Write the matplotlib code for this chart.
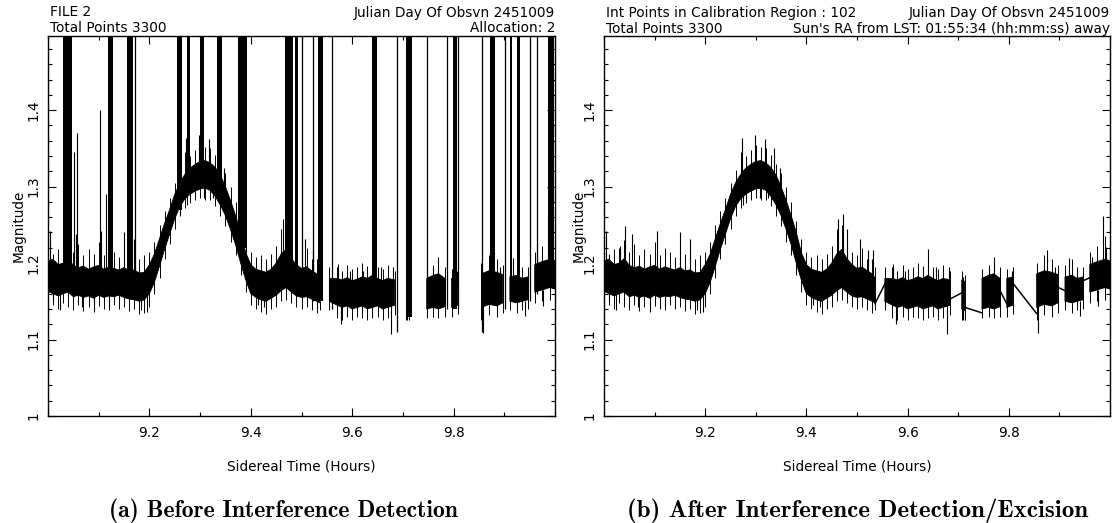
import matplotlib.pyplot as plt
from matplotlib.ticker import MultipleLocator

nan = float("nan")

# clean signal, sidereal time (h): core of the noise band (lo/hi) and the
# extremes of the noise at each knot (tip_lo/tip_hi), magnitude.
# nan knots mark the stretches removed by the excision
band_t = [9.000, 9.010, 9.020, 9.030, 9.040, 9.050, 9.060, 9.070, 9.080, 9.090,
          9.100, 9.110, 9.120, 9.130, 9.140, 9.150, 9.160, 9.170, 9.180, 9.190,
          9.200, 9.210, 9.220, 9.230, 9.240, 9.250, 9.260, 9.270, 9.280, 9.290,
          9.300, 9.310, 9.320, 9.330, 9.340, 9.350, 9.360, 9.370, 9.380, 9.390,
          9.400, 9.410, 9.420, 9.430, 9.440, 9.450, 9.460, 9.470, 9.480, 9.490,
          9.500, 9.510, 9.520, 9.530, 9.536, 9.545, 9.555, 9.570, 9.580, 9.590,
          9.600, 9.610, 9.620, 9.630, 9.640, 9.650, 9.660, 9.670, 9.684, 9.695,
          9.707, 9.713, 9.730, 9.747, 9.760, 9.770, 9.783, 9.790, 9.796, 9.808,
          9.830, 9.855, 9.870, 9.885, 9.897, 9.904, 9.911, 9.925, 9.935, 9.947,
          9.953, 9.960, 9.975, 9.990, 10.000]
band_lo = [1.163, 1.160, 1.157, 1.160, 1.162, 1.156, 1.158, 1.155, 1.157, 1.154,
           1.158, 1.155, 1.157, 1.156, 1.158, 1.155, 1.153, 1.152, 1.150, 1.152,
           1.160, 1.175, 1.196, 1.218, 1.238, 1.258, 1.274, 1.284, 1.290, 1.294,
           1.297, 1.298, 1.295, 1.287, 1.276, 1.262, 1.244, 1.224, 1.200, 1.178,
           1.160, 1.155, 1.152, 1.150, 1.154, 1.158, 1.164, 1.168, 1.162, 1.157,
           1.155, 1.156, 1.153, 1.150, 1.148, nan, 1.150, 1.145, 1.142, 1.144,
           1.140, 1.142, 1.144, 1.140, 1.142, 1.144, 1.140, 1.142, 1.145, nan,
           1.140, 1.138, nan, 1.140, 1.142, 1.140, 1.143, nan, 1.142, 1.145,
           nan, 1.142, 1.146, 1.144, 1.148, nan, 1.150, 1.148, 1.150, 1.152,
           nan, 1.162, 1.165, 1.168, 1.166]
band_hi = [1.203, 1.205, 1.198, 1.200, 1.206, 1.197, 1.194, 1.196, 1.192, 1.195,
           1.197, 1.192, 1.195, 1.193, 1.191, 1.194, 1.190, 1.191, 1.187, 1.188,
           1.198, 1.212, 1.232, 1.252, 1.270, 1.290, 1.305, 1.316, 1.324, 1.329,
           1.333, 1.334, 1.331, 1.325, 1.315, 1.300, 1.282, 1.262, 1.240, 1.214,
           1.198, 1.192, 1.190, 1.188, 1.192, 1.200, 1.212, 1.218, 1.206, 1.198,
           1.193, 1.195, 1.190, 1.186, 1.180, nan, 1.180, 1.180, 1.178, 1.181,
           1.177, 1.179, 1.182, 1.180, 1.184, 1.180, 1.177, 1.180, 1.178, nan,
           1.178, 1.176, nan, 1.180, 1.184, 1.186, 1.180, nan, 1.180, 1.182,
           nan, 1.186, 1.190, 1.188, 1.185, nan, 1.182, 1.184, 1.180, 1.182,
           nan, 1.198, 1.202, 1.205, 1.203]
tip_lo = [1.150, 1.145, 1.140, 1.148, 1.143, 1.138, 1.145, 1.137, 1.142, 1.136,
          1.144, 1.140, 1.138, 1.145, 1.140, 1.142, 1.137, 1.140, 1.133, 1.135,
          1.142, 1.160, 1.180, 1.205, 1.225, 1.245, 1.262, 1.272, 1.278, 1.282,
          1.285, 1.283, 1.282, 1.275, 1.262, 1.248, 1.228, 1.210, 1.185, 1.162,
          1.145, 1.140, 1.136, 1.134, 1.140, 1.142, 1.150, 1.152, 1.148, 1.143,
          1.140, 1.142, 1.138, 1.135, 1.138, nan, 1.138, 1.128, 1.125, 1.130,
          1.126, 1.130, 1.128, 1.125, 1.128, 1.130, 1.125, 1.128, 1.132, nan,
          1.125, 1.125, nan, 1.128, 1.130, 1.128, 1.130, nan, 1.130, 1.133,
          nan, 1.125, 1.132, 1.130, 1.135, nan, 1.138, 1.135, 1.138, 1.140,
          nan, 1.148, 1.150, 1.152, 1.155]
tip_hi = [1.225, 1.212, 1.218, 1.220, 1.230, 1.215, 1.225, 1.210, 1.218, 1.212,
          1.228, 1.210, 1.220, 1.215, 1.208, 1.225, 1.212, 1.220, 1.205, 1.210,
          1.215, 1.228, 1.250, 1.268, 1.285, 1.305, 1.322, 1.345, 1.340, 1.348,
          1.355, 1.352, 1.350, 1.342, 1.330, 1.318, 1.300, 1.280, 1.255, 1.232,
          1.215, 1.208, 1.210, 1.205, 1.212, 1.222, 1.245, 1.250, 1.235, 1.215,
          1.210, 1.220, 1.205, 1.205, 1.195, nan, 1.195, 1.195, 1.190, 1.198,
          1.192, 1.195, 1.200, 1.196, 1.205, 1.195, 1.192, 1.198, 1.190, nan,
          1.190, 1.185, nan, 1.192, 1.198, 1.205, 1.195, nan, 1.192, 1.195,
          nan, 1.200, 1.210, 1.205, 1.198, nan, 1.198, 1.205, 1.195, 1.195,
          nan, 1.215, 1.222, 1.235, 1.225]

# single noise spikes sticking out of the band
spike_t = [9.004, 9.009, 9.024, 9.032, 9.041, 9.055, 9.068, 9.091, 9.104, 9.121,
           9.150, 9.170, 9.183, 9.196, 9.272, 9.275, 9.298, 9.308, 9.318, 9.325,
           9.335, 9.348, 9.414, 9.427, 9.463, 9.473, 9.480, 9.506, 9.522, 9.532,
           9.572, 9.578, 9.595, 9.621, 9.641, 9.657, 9.677, 9.681, 9.709, 9.760,
           9.770, 9.806, 9.858, 9.875, 9.891, 9.918, 9.941, 9.964, 9.977, 9.987,
           9.993]
spike_lo = [1.190, 1.150, 1.138, 1.190, 1.190, 1.190, 1.142, 1.138, 1.190, 1.144,
            1.190, 1.190, 1.138, 1.136, 1.310, 1.276, 1.320, 1.285, 1.320, 1.285,
            1.310, 1.290, 1.145, 1.143, 1.200, 1.200, 1.200, 1.180, 1.180, 1.175,
            1.170, 1.120, 1.160, 1.170, 1.170, 1.170, 1.107, 1.170, 1.125, 1.170,
            1.170, 1.170, 1.109, 1.180, 1.170, 1.170, 1.131, 1.180, 1.144, 1.190,
            1.190]
spike_hi = [1.242, 1.190, 1.170, 1.222, 1.249, 1.238, 1.170, 1.170, 1.242, 1.170,
            1.240, 1.231, 1.165, 1.165, 1.364, 1.300, 1.367, 1.310, 1.362, 1.310,
            1.351, 1.324, 1.170, 1.170, 1.258, 1.264, 1.244, 1.231, 1.217, 1.217,
            1.199, 1.150, 1.190, 1.190, 1.219, 1.195, 1.145, 1.195, 1.182, 1.195,
            1.208, 1.190, 1.145, 1.217, 1.195, 1.206, 1.150, 1.208, 1.165, 1.262,
            1.221]

# excised stretches: the cleaned trace joins them with a straight line
gap_t0 = [9.5356, 9.6838, 9.7134, 9.7826, 9.8089, 9.8979, 9.9473]
gap_t1 = [9.5553, 9.7069, 9.7464, 9.7958, 9.8550, 9.9111, 9.9605]
gap_m0 = [1.147, 1.153, 1.142, 1.164, 1.173, 1.168, 1.177]
gap_m1 = [1.173, 1.161, 1.135, 1.147, 1.134, 1.164, 1.181]

# interference in the raw trace: dense blocks running off the top of the plot
rfi_t0 = [9.030, 9.118, 9.156, 9.254, 9.274, 9.300, 9.333, 9.375, 9.467, 9.487,
          9.533, 9.639, 9.707, 9.799, 9.872, 9.911, 9.925, 9.986]
rfi_t1 = [9.047, 9.128, 9.168, 9.264, 9.280, 9.308, 9.343, 9.392, 9.483, 9.493,
          9.542, 9.649, 9.718, 9.807, 9.882, 9.915, 9.931, 9.999]
rfi_base = [1.17, 1.17, 1.17, 1.27, 1.29, 1.30, 1.30, 1.22, 1.17, 1.17,
            1.15, 1.15, 1.13, 1.14, 1.15, 1.15, 1.15, 1.17]
rfi_top = 1.6
# single interference hits
hit_t = [9.172, 9.501, 9.523, 9.560, 9.688, 9.748, 9.787, 9.809, 9.856, 9.901,
         9.951, 9.964]
hit_lo = [1.17, 1.16, 1.15, 1.14, 1.11, 1.14, 1.14, 1.14, 1.11, 1.14, 1.15, 1.16]
# hits that stay on scale
part_t = [9.052, 9.058, 9.103, 9.114]
part_lo = [1.19, 1.19, 1.19, 1.19]
part_hi = [1.345, 1.37, 1.40, 1.29]

x_ticks = [9.2, 9.4, 9.6, 9.8]
x_labels = ["9.2", "9.4", "9.6", "9.8"]
y_ticks = [1.0, 1.1, 1.2, 1.3, 1.4]
y_labels = ["1", "1.1", "1.2", "1.3", "1.4"]

FS = 9.8
W, H = 1117, 523
fig = plt.figure(figsize=(W / 100, H / 100), dpi=100)


def px_axes(x0, x1, y0, y1):
    return fig.add_axes([x0 / W, 1 - y1 / H, (x1 - x0) / W, (y1 - y0) / H])


def style(ax, ylab_x):
    ax.set_xlim(9.0, 10.0)
    ax.set_ylim(1.0, 1.497)
    ax.set_xticks(x_ticks, x_labels)
    ax.set_yticks(y_ticks, y_labels)
    ax.xaxis.set_minor_locator(MultipleLocator(0.1))
    ax.yaxis.set_minor_locator(MultipleLocator(0.02))
    ax.tick_params(which="both", direction="in", top=True, right=True,
                   width=0.8, labelsize=FS)
    ax.tick_params(which="major", length=6)
    ax.tick_params(which="minor", length=3)
    ax.tick_params(axis="x", pad=7)
    ax.tick_params(axis="y", pad=5, labelrotation=90)
    for lab in ax.get_yticklabels():
        lab.set_va("center")
    for sp in ax.spines.values():
        sp.set_linewidth(1.0)
    ax.set_xlabel("Sidereal Time (Hours)", fontsize=FS)
    ax.xaxis.set_label_coords(0.5, -0.132)
    ax.xaxis.label.set_va("center")
    ax.set_ylabel("Magnitude", fontsize=FS)
    ax.yaxis.set_label_coords(ylab_x, 0.5)
    ax.yaxis.label.set_va("center")


def draw_signal(ax):
    ax.fill_between(band_t, band_lo, band_hi, facecolor="black",
                    edgecolor="black", linewidth=0.6)
    ax.vlines(band_t, tip_lo, tip_hi, color="black", linewidth=0.7)
    ax.vlines(spike_t, spike_lo, spike_hi, color="black", linewidth=0.8)


ax_a = px_axes(48, 555, 36, 416)
ax_b = px_axes(604, 1110, 36, 416)

# (a) raw trace
draw_signal(ax_a)
ax_a.bar(rfi_t0, [rfi_top - b for b in rfi_base],
         width=[b - a for a, b in zip(rfi_t0, rfi_t1)], bottom=rfi_base,
         align="edge", color="black", linewidth=0)
ax_a.vlines(hit_t, hit_lo, rfi_top, color="black", linewidth=0.9)
ax_a.vlines(part_t, part_lo, part_hi, color="black", linewidth=0.8)
style(ax_a, -0.057)

# (b) after excision
draw_signal(ax_b)
for t0, t1, m0, m1 in zip(gap_t0, gap_t1, gap_m0, gap_m1):
    ax_b.plot([t0, t1], [m0, m1], color="black", linewidth=1.1)
style(ax_b, -0.051)

hdr = dict(fontsize=FS, va="center")
fig.text(50 / W, 1 - 12.5 / H, "FILE 2", ha="left", **hdr)
fig.text(50 / W, 1 - 28.5 / H, "Total Points 3300", ha="left", **hdr)
fig.text(555 / W, 1 - 12.5 / H, "Julian Day Of Obsvn 2451009", ha="right", **hdr)
fig.text(555 / W, 1 - 28.5 / H, "Allocation: 2", ha="right", **hdr)

fig.text(606 / W, 1 - 13.5 / H, "Int Points in Calibration Region : 102", ha="left", **hdr)
fig.text(606 / W, 1 - 29 / H, "Total Points 3300", ha="left", **hdr)
fig.text(1110 / W, 1 - 13.5 / H, "Julian Day Of Obsvn 2451009", ha="right", **hdr)
fig.text(1110 / W, 1 - 29 / H, "Sun's RA from LST: 01:55:34 (hh:mm:ss) away",
         ha="right", **hdr)

cap = dict(ha="center", va="center", fontweight="bold",
           family=["cmb10", "DejaVu Serif"])
fig.text(283 / W, 1 - 511 / H, "(a) Before Interference Detection", fontsize=17, **cap)
fig.text(858 / W, 1 - 511 / H, "(b) After Interference Detection/Excision",
         fontsize=18, **cap)

fig.savefig("out.png", dpi=100)
